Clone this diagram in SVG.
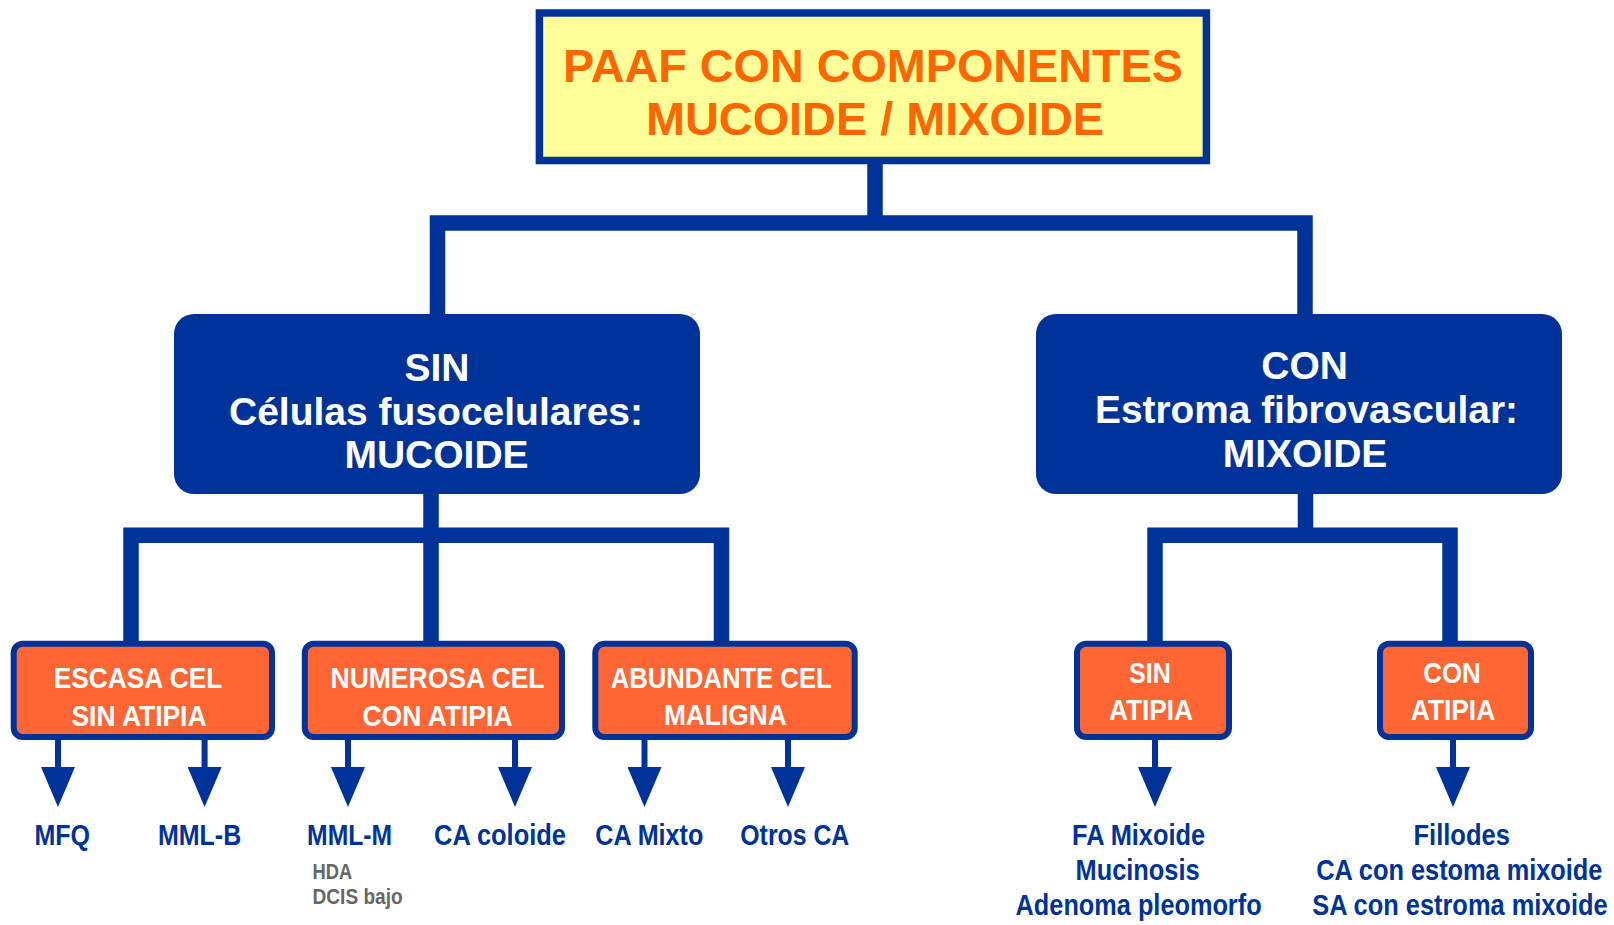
<svg xmlns="http://www.w3.org/2000/svg" width="1614" height="925" viewBox="0 0 1614 925">
<style>
  .bar{fill:none;stroke:#003399;stroke-width:15.5;stroke-linejoin:miter;stroke-linecap:butt}
  .shaft{stroke:#003399;stroke-width:6;marker-end:url(#ah)}
  .title{font-family:"Liberation Sans",Arial,sans-serif;font-weight:bold;font-size:46px;fill:#FF6600;text-anchor:middle}
  .mid{font-family:"Liberation Sans",Arial,sans-serif;font-weight:bold;font-size:39px;fill:#FFFFFF;text-anchor:middle}
  .or{font-family:"Liberation Sans",Arial,sans-serif;font-weight:bold;font-size:30px;fill:#FFFFFF;text-anchor:middle}
  .lab{font-family:"Liberation Sans",Arial,sans-serif;font-weight:bold;font-size:29px;fill:#003399;text-anchor:middle}
  .sub{font-family:"Liberation Sans",Arial,sans-serif;font-weight:bold;font-size:22.5px;fill:#666666}
  .obox{fill:#FF6633;stroke:#003399;stroke-width:6}
  .bbox{fill:#003399}
</style>
<defs>
  <marker id="ah" viewBox="0 0 40 34" refX="8" refY="17" markerWidth="40" markerHeight="34" markerUnits="userSpaceOnUse" orient="auto">
    <path d="M0,0 L40,17 L0,34 Z" fill="#003399"/>
  </marker>
</defs>
<rect width="1614" height="925" fill="#FFFFFF"/>
<g id="connectors">
  <path class="bar" d="M875 160 V223"/>
  <path class="bar" d="M437.5 316 V223 H1305 V316"/>
  <path class="bar" d="M431 492 V535.3 M131 643 V535.3 H721.5 V643 M431 535 V643"/>
  <path class="bar" d="M1305.5 492 V535.3 M1155 643 V535.3 H1450 V643"/>
  <line class="shaft" x1="58" y1="738" x2="58" y2="775"/>
  <line class="shaft" x1="204.6" y1="738" x2="204.6" y2="775"/>
  <line class="shaft" x1="348" y1="738" x2="348" y2="775"/>
  <line class="shaft" x1="515" y1="738" x2="515" y2="775"/>
  <line class="shaft" x1="644.5" y1="738" x2="644.5" y2="775"/>
  <line class="shaft" x1="788" y1="738" x2="788" y2="775"/>
  <line class="shaft" x1="1155" y1="738" x2="1155" y2="775"/>
  <line class="shaft" x1="1453" y1="738" x2="1453" y2="775"/>
</g>
<g id="title">
  <rect x="539.4" y="13" width="667" height="147.5" fill="#FFFF99" stroke="#003399" stroke-width="7.5"/>
  <text class="title" x="873" y="81.7" textLength="620" lengthAdjust="spacingAndGlyphs">PAAF CON COMPONENTES</text>
  <text class="title" x="875" y="135" textLength="458" lengthAdjust="spacingAndGlyphs">MUCOIDE / MIXOIDE</text>
</g>
<g id="mucoide">
  <rect class="bbox" x="174" y="314" width="526" height="180" rx="20"/>
  <text class="mid" x="437" y="381">SIN</text>
  <text class="mid" x="436" y="425" textLength="414" lengthAdjust="spacingAndGlyphs">Células fusocelulares:</text>
  <text class="mid" x="436.5" y="468">MUCOIDE</text>
</g>
<g id="mixoide">
  <rect class="bbox" x="1036" y="314" width="526" height="180" rx="20"/>
  <text class="mid" x="1304.6" y="379">CON</text>
  <text class="mid" x="1306.5" y="423" textLength="423" lengthAdjust="spacingAndGlyphs">Estroma fibrovascular:</text>
  <text class="mid" x="1305" y="467">MIXOIDE</text>
</g>
<g id="escasa">
  <rect class="obox" x="13.7" y="643.7" width="258.3" height="93.3" rx="9"/>
  <text class="or" x="138" y="688.3" textLength="168.6" lengthAdjust="spacingAndGlyphs">ESCASA CEL</text>
  <text class="or" x="139" y="725.7" textLength="135" lengthAdjust="spacingAndGlyphs">SIN ATIPIA</text>
</g>
<g id="numerosa">
  <rect class="obox" x="304.8" y="643.7" width="257.2" height="93.3" rx="9"/>
  <text class="or" x="437.5" y="688.3" textLength="214" lengthAdjust="spacingAndGlyphs">NUMEROSA CEL</text>
  <text class="or" x="437.5" y="725.7" textLength="150" lengthAdjust="spacingAndGlyphs">CON ATIPIA</text>
</g>
<g id="abundante">
  <rect class="obox" x="595.3" y="643.7" width="259.4" height="93.3" rx="9"/>
  <text class="or" x="721.2" y="688.3" textLength="221" lengthAdjust="spacingAndGlyphs">ABUNDANTE CEL</text>
  <text class="or" x="725.3" y="725.3" textLength="122.7" lengthAdjust="spacingAndGlyphs">MALIGNA</text>
</g>
<g id="sin-atipia">
  <rect class="obox" x="1077" y="643.7" width="152" height="93.3" rx="9"/>
  <text class="or" x="1150" y="683.3" textLength="41.8" lengthAdjust="spacingAndGlyphs">SIN</text>
  <text class="or" x="1151" y="720" textLength="84" lengthAdjust="spacingAndGlyphs">ATIPIA</text>
</g>
<g id="con-atipia">
  <rect class="obox" x="1380" y="643.7" width="151" height="93.3" rx="9"/>
  <text class="or" x="1452" y="683.3" textLength="57.4" lengthAdjust="spacingAndGlyphs">CON</text>
  <text class="or" x="1453" y="720" textLength="84.3" lengthAdjust="spacingAndGlyphs">ATIPIA</text>
</g>
<g id="mfq"><text class="lab" x="62.2" y="845" textLength="55.6" lengthAdjust="spacingAndGlyphs">MFQ</text></g>
<g id="mml-b"><text class="lab" x="199.6" y="845" textLength="83.2" lengthAdjust="spacingAndGlyphs">MML-B</text></g>
<g id="mml-m">
  <text class="lab" x="349.6" y="845" textLength="85" lengthAdjust="spacingAndGlyphs">MML-M</text>
  <text class="sub" x="312.6" y="878.7" textLength="39.6" lengthAdjust="spacingAndGlyphs">HDA</text>
  <text class="sub" x="312.6" y="904" textLength="90" lengthAdjust="spacingAndGlyphs">DCIS bajo</text>
</g>
<g id="ca-coloide"><text class="lab" x="500" y="845" textLength="132" lengthAdjust="spacingAndGlyphs">CA coloide</text></g>
<g id="ca-mixto"><text class="lab" x="649.3" y="845" textLength="108" lengthAdjust="spacingAndGlyphs">CA Mixto</text></g>
<g id="otros-ca"><text class="lab" x="794.8" y="845" textLength="109" lengthAdjust="spacingAndGlyphs">Otros CA</text></g>
<g id="fa-mixoide">
  <text class="lab" x="1138.6" y="845" textLength="133" lengthAdjust="spacingAndGlyphs">FA Mixoide</text>
  <text class="lab" x="1137.6" y="879.5" textLength="124" lengthAdjust="spacingAndGlyphs">Mucinosis</text>
  <text class="lab" x="1138.6" y="914.5" textLength="246" lengthAdjust="spacingAndGlyphs">Adenoma pleomorfo</text>
</g>
<g id="fillodes">
  <text class="lab" x="1461.7" y="845" textLength="96.3" lengthAdjust="spacingAndGlyphs">Fillodes</text>
  <text class="lab" transform="translate(1459.3,879.5) scale(0.8743,1)" x="0" y="0">CA con estoma mixoide</text>
  <text class="lab" transform="translate(1459.9,914.5) scale(0.8756,1)" x="0" y="0">SA con estroma mixoide</text>
</g>
</svg>
